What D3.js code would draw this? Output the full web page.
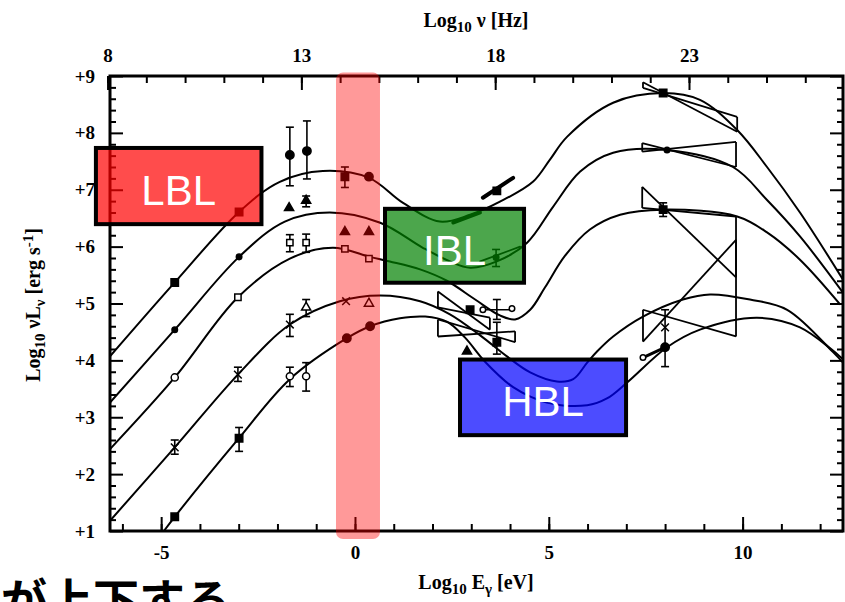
<!DOCTYPE html>
<html>
<head>
<meta charset="utf-8">
<title>Blazar sequence</title>
<script src="https://cdn.jsdelivr.net/npm/d3@7/dist/d3.min.js"></script>
<style>
  html, body { margin: 0; padding: 0; background: #fff; }
  svg { display: block; }
</style>
</head>
<body>
<svg id="chart" width="845" height="602"></svg>
<script>
// ---- Axis ticks -------------------------------------------------------
const energyMajorTicks = [-5, 0, 5, 10];
const energyTickLabels = ["-5", "0", "5", "10"];
const freqMajorTicks = [8, 13, 18, 23];
const freqTickLabels = ["8", "13", "18", "23"];
const lumMajorTicks = [1, 2, 3, 4, 5, 6, 7, 8, 9];
const lumTickLabels = ["+1", "+2", "+3", "+4", "+5", "+6", "+7", "+8", "+9"];

// ---- Average SED model curves: [log10 E (eV), log10 νLν] ---------------
const sed1 = [[-6.32,4.07],[-4.65,5.37],[-2.99,6.61],[-1.94,7.14],[-0.83,7.33],[0.36,7.21],[1.24,6.77],[2.19,6.44],[2.97,6.56],[3.74,6.79],[4.59,7.14],[5.03,7.53],[5.47,7.93],[6.66,8.53],[7.95,8.70],[8.90,8.58],[9.86,8.05],[10.63,7.40],[11.48,6.60],[12.59,5.42]];
const sed2 = [[-6.32,3.26],[-4.65,4.54],[-2.99,5.82],[-1.81,6.44],[-0.65,6.60],[0.65,6.42],[1.75,5.98],[2.45,5.74],[2.97,5.63],[3.66,5.74],[4.44,6.07],[5.11,6.70],[5.81,7.32],[6.66,7.65],[8.05,7.70],[9.75,7.40],[10.63,6.82],[11.48,6.18],[12.59,5.19]];
const sed3 = [[-6.32,2.44],[-4.65,3.70],[-3.02,5.11],[-1.68,5.79],[-0.57,5.98],[0.39,5.82],[0.90,5.74],[1.68,5.60],[2.37,5.40],[3.10,5.07],[3.74,4.79],[4.13,4.72],[4.52,4.89],[4.90,5.28],[5.42,5.84],[6.06,6.30],[6.84,6.56],[7.95,6.65],[9.86,6.53],[10.63,6.25],[11.48,5.77],[12.52,4.98]];
const sed4 = [[-6.32,1.18],[-4.65,2.47],[-3.02,3.75],[-1.68,4.63],[-0.39,5.04],[0.65,5.14],[1.68,5.04],[2.45,4.81],[3.23,4.44],[3.92,4.07],[4.52,3.79],[5.21,3.63],[5.63,3.67],[5.99,3.96],[6.25,4.16],[6.66,4.42],[7.43,4.77],[8.46,5.07],[9.16,5.16],[10.19,5.07],[11.15,4.89],[12.34,4.14],[12.59,3.96]];
const sed5 = [[-4.93,1.00],[-4.65,1.25],[-3.02,2.61],[-1.68,3.67],[-0.21,4.39],[0.39,4.60],[1.16,4.74],[1.81,4.77],[2.37,4.68],[2.84,4.40],[3.35,3.98],[4.08,3.53],[4.95,3.26],[5.99,3.21],[6.50,3.33],[7.02,3.61],[8.05,4.23],[8.90,4.54],[10.37,4.75],[11.48,4.58],[12.59,4.02]];

// ---- Measured points: [log10 E, log10 νLν, errLow, errHigh] -------------
const points1 = [[-4.65,5.37],[-2.99,6.61],[-1.68,7.61,7.07,8.10],[-1.24,7.68,7.19,8.21],[-0.26,7.23,7.04,7.40],[0.36,7.23],[3.66,6.98],[7.95,8.70]];
const points2 = [[-4.65,4.54],[-2.99,5.82],[-1.70,6.68],[-1.26,6.81,6.70,6.89],[-0.26,6.26],[0.36,6.26],[3.64,5.81,5.65,5.95],[8.05,7.70]];
const points3 = [[-4.65,3.70],[-3.02,5.11],[-1.68,6.07,5.91,6.21],[-1.26,6.07,5.90,6.22],[-0.26,5.96],[0.36,5.79],[2.97,4.89],[3.66,4.89,4.72,5.07],[3.30,4.89],[4.05,4.91],[7.95,6.65,6.53,6.77]];
const points4 = [[-4.65,2.47,2.35,2.60],[-3.02,3.75,3.63,3.88],[-1.68,4.63,4.42,4.81],[-1.26,4.93,4.77,5.07],[-0.23,5.04],[0.36,5.00],[8.00,4.58,3.89,4.89]];
const points5 = [[-4.65,1.25],[-2.99,2.63,2.40,2.82],[-1.68,3.72,3.54,3.88],[-1.26,3.72,3.46,3.96],[-0.21,4.39],[0.39,4.60],[2.89,4.16],[3.66,4.32,4.11,4.67],[7.43,4.05],[8.00,4.23]];

// Horizontal error bars: [log10 E, log10 νLν, E low, E high]
const energyErrorBars = [[3.66, 4.89, 3.23, 4.13]];

// Spectral bow-ties: [E1, E2, lineA at E1, lineA at E2, lineB at E1, lineB at E2]
const gammaBowties = [
  [7.43, 9.86, 8.89, 8.02, 8.79, 8.28],
  [7.41, 9.83, 7.82, 7.40, 7.67, 7.84],
  [7.41, 9.83, 7.05, 5.46, 6.68, 6.53],
  [7.43, 9.83, 4.89, 4.42, 4.33, 6.12]
];
const xrayBowties = [
  [2.14, 3.48, 5.21, 4.54, 4.93, 4.75],
  [2.14, 4.13, 4.72, 4.32, 4.42, 4.51]
];
// Measured spectral slopes: [E1, L1, E2, L2]
const spectralSlopes = [
  [3.30, 6.86, 4.08, 7.21],
  [2.53, 6.42, 3.23, 6.60],
  [3.23, 5.74, 4.26, 6.00],
  [7.43, 4.05, 8.00, 4.23]
];

// ---- Class annotations (extent in log10 E and log10 νLν) ---------------
const classNames = ["LBL", "IBL", "HBL"];
const classExtents = [
  [-6.735, -2.361, 7.77, 6.36],
  [0.723, 4.413, 6.70, 5.33],
  [2.658, 7.045, 4.05, 2.65]
];
const bandExtent = [-0.49, 0.645, 9.06, 0.86];

// =======================================================================
const svg = d3.select("#chart");
const W = 845, H = 602;
svg.append("rect").attr("width", W).attr("height", H).attr("fill", "#fff");

const x = d3.scaleLinear().domain([-6.32, 12.59]).range([110, 843]);
const y = d3.scaleLinear().domain([1, 9]).range([531, 76]);
const LOG_HZ_PER_EV = 14.383;
const xNu = d3.scaleLinear().domain(x.domain().map(d => d + LOG_HZ_PER_EV)).range(x.range());

const [x0, x1] = x.range();
const [y0, y1] = [y(9), y(1)];
const serif = "'Liberation Serif', 'DejaVu Serif', serif";

svg.append("defs").append("clipPath").attr("id", "plotClip")
  .append("rect").attr("x", x0).attr("y", y0).attr("width", x1 - x0).attr("height", y1 - y0);

// ---- Axes --------------------------------------------------------------
function styleAxis(g, labelSize) {
  g.select(".domain").remove();
  g.selectAll(".tick line").attr("stroke", "#000").attr("stroke-width", 2);
  g.selectAll(".tick text")
    .attr("fill", "#000")
    .attr("font-family", serif)
    .attr("font-weight", "bold")
    .attr("font-size", labelSize);
}

const minorLum = d3.range(1, 9.0001, 0.2).filter(v => Math.abs(v - Math.round(v)) > 1e-6);
const minorEnergy = d3.range(-6, 13, 1);
const minorFreq = d3.range(8, 27, 1);

// left
svg.append("g").attr("transform", `translate(${x0},0)`)
  .call(d3.axisLeft(y).tickValues(minorLum).tickSize(-6).tickFormat(""))
  .call(g => styleAxis(g, 16));
svg.append("g").attr("transform", `translate(${x0},0)`)
  .call(d3.axisLeft(y).tickValues(lumMajorTicks).tickSizeInner(-13).tickSizeOuter(0).tickPadding(15)
    .tickFormat((d, i) => lumTickLabels[i]))
  .call(g => styleAxis(g, 19));
// right
svg.append("g").attr("transform", `translate(${x1},0)`)
  .call(d3.axisRight(y).tickValues(minorLum).tickSize(-6).tickFormat(""))
  .call(g => styleAxis(g, 16));
svg.append("g").attr("transform", `translate(${x1},0)`)
  .call(d3.axisRight(y).tickValues(lumMajorTicks).tickSize(-13).tickFormat(""))
  .call(g => styleAxis(g, 16));
// bottom
svg.append("g").attr("transform", `translate(0,${y1})`)
  .call(d3.axisBottom(x).tickValues(minorEnergy).tickSize(-7).tickFormat(""))
  .call(g => styleAxis(g, 16));
svg.append("g").attr("transform", `translate(0,${y1})`)
  .call(d3.axisBottom(x).tickValues(energyMajorTicks).tickSizeInner(-14).tickSizeOuter(0).tickPadding(15)
    .tickFormat((d, i) => energyTickLabels[i]))
  .call(g => styleAxis(g, 19));
// top
svg.append("g").attr("transform", `translate(0,${y0})`)
  .call(d3.axisTop(xNu).tickValues(minorFreq).tickSize(-7).tickFormat(""))
  .call(g => styleAxis(g, 16));
svg.append("g").attr("transform", `translate(0,${y0})`)
  .call(d3.axisTop(xNu).tickValues(freqMajorTicks).tickSizeInner(-14).tickSizeOuter(0).tickPadding(14)
    .tickFormat((d, i) => freqTickLabels[i]))
  .call(g => styleAxis(g, 19));

// frame
svg.append("rect").attr("x", x0).attr("y", y0).attr("width", x1 - x0).attr("height", y1 - y0)
  .attr("fill", "none").attr("stroke", "#000").attr("stroke-width", 3);

// ---- Axis titles --------------------------------------------------------
function richText(sel, parts) {
  parts.forEach(p => {
    const t = sel.append("tspan").text(p.t);
    if (p.sub) t.attr("baseline-shift", "-30%").attr("font-size", "75%");
    if (p.sup) t.attr("baseline-shift", "45%").attr("font-size", "75%");
  });
}
const titleStyle = s => s.attr("font-family", serif).attr("font-weight", "bold")
  .attr("font-size", 20).attr("fill", "#000").attr("text-anchor", "middle");

svg.append("text").attr("x", 476).attr("y", 27).call(titleStyle)
  .call(s => richText(s, [{t: "Log"}, {t: "10", sub: true}, {t: " ν [Hz]"}]));
svg.append("text").attr("x", 476).attr("y", 589).call(titleStyle)
  .call(s => richText(s, [{t: "Log"}, {t: "10", sub: true}, {t: " E"}, {t: "γ", sub: true}, {t: " [eV]"}]));
svg.append("text").attr("transform", "translate(40,305) rotate(-90)").call(titleStyle)
  .call(s => richText(s, [{t: "Log"}, {t: "10", sub: true}, {t: " νL"}, {t: "ν", sub: true},
    {t: " [erg s"}, {t: "-1", sup: true}, {t: "]"}]));

// ---- Data layer ---------------------------------------------------------
const plot = svg.append("g").attr("clip-path", "url(#plotClip)");
const line = d3.line().x(d => x(d[0])).y(d => y(d[1])).curve(d3.curveCatmullRom.alpha(0.5));

[sed1, sed2, sed3, sed4, sed5].forEach(s => {
  plot.append("path").attr("d", line(s)).attr("fill", "none")
    .attr("stroke", "#000").attr("stroke-width", 2);
});

// bow-ties
function drawBowtie(b, w) {
  const [e1, e2, a1, a2, b1, b2] = b;
  const g = plot.append("g").attr("fill", "none").attr("stroke", "#000").attr("stroke-width", w);
  g.append("path").attr("d", d3.line()([[x(e1), y(a1)], [x(e2), y(a2)]]));
  g.append("path").attr("d", d3.line()([[x(e1), y(b1)], [x(e2), y(b2)]]));
  g.append("path").attr("d", d3.line()([[x(e1), y(a1)], [x(e1), y(b1)]]));
  g.append("path").attr("d", d3.line()([[x(e2), y(a2)], [x(e2), y(b2)]]));
}
gammaBowties.forEach(b => drawBowtie(b, 1.8));
xrayBowties.forEach(b => drawBowtie(b, 1.8));

const slopeWidths = [4, 3.5, 1.8, 3];
spectralSlopes.forEach((s, i) => {
  plot.append("path").attr("d", d3.line()([[x(s[0]), y(s[1])], [x(s[2]), y(s[3])]]))
    .attr("stroke", "#000").attr("stroke-width", slopeWidths[i]).attr("stroke-linecap", "round");
});

// error bars
function errorBar(e, lo, hi) {
  const g = plot.append("g").attr("stroke", "#000").attr("stroke-width", 1.6);
  g.append("line").attr("x1", x(e)).attr("x2", x(e)).attr("y1", y(lo)).attr("y2", y(hi));
  [lo, hi].forEach(v => g.append("line").attr("x1", x(e) - 4).attr("x2", x(e) + 4)
    .attr("y1", y(v)).attr("y2", y(v)));
}
energyErrorBars.forEach(b => {
  const g = plot.append("g").attr("stroke", "#000").attr("stroke-width", 1.6);
  g.append("line").attr("x1", x(b[2])).attr("x2", x(b[3])).attr("y1", y(b[1])).attr("y2", y(b[1]));
});

// marker shapes per series
const shapes1 = ["square","square","circle","circle","square","circle","square","square"];
const shapes2 = ["dot","dot","triangle","triangle","triangle","triangle","dot","dot"];
const shapes3 = ["openCircle","openSquare","openSquare","openSquare","openSquare","openSquare","square","cross","smallOpenCircle","smallOpenCircle","square"];
const shapes4 = ["times","times","times","openTriangle","times","openTriangle","times"];
const shapes5 = ["square","square","openCircle","openCircle","circle","circle","triangle","square","smallOpenCircle","circle"];

const symbolDefs = {
  square:          {type: d3.symbolSquare,   size: 55, fill: true},
  circle:          {type: d3.symbolCircle,   size: 55, fill: true},
  dot:             {type: d3.symbolCircle,   size: 24, fill: true},
  triangle:        {type: d3.symbolTriangle, size: 36, fill: true},
  openSquare:      {type: d3.symbolSquare,   size: 40, fill: false},
  openCircle:      {type: d3.symbolCircle,   size: 40, fill: false},
  smallOpenCircle: {type: d3.symbolCircle,   size: 24, fill: false},
  openTriangle:    {type: d3.symbolTriangle, size: 36, fill: false},
  times:           {type: d3.symbolTimes || d3.symbolCross, size: 40, fill: false, stroke: true},
  cross:           {type: d3.symbolCross,    size: 0,  fill: false}
};

function drawPoints(pts, shapes) {
  pts.forEach((p, i) => {
    if (p.length > 2) errorBar(p[0], p[2], p[3]);
    const def = symbolDefs[shapes[i]];
    if (!def.size) return;
    plot.append("path")
      .attr("transform", `translate(${x(p[0])},${y(p[1])})`)
      .attr("d", d3.symbol().type(def.type).size(def.size)())
      .attr("fill", def.fill ? "#000" : (def.stroke ? "none" : "#fff"))
      .attr("stroke", "#000").attr("stroke-width", 1.5);
  });
}
drawPoints(points1, shapes1);
drawPoints(points2, shapes2);
drawPoints(points3, shapes3);
drawPoints(points4, shapes4);
drawPoints(points5, shapes5);

// ---- Annotations --------------------------------------------------------
svg.append("rect")
  .attr("x", x(bandExtent[0])).attr("y", y(bandExtent[2]))
  .attr("width", x(bandExtent[1]) - x(bandExtent[0]))
  .attr("height", y(bandExtent[3]) - y(bandExtent[2]))
  .attr("rx", 7).attr("fill", "#ff0000").attr("fill-opacity", 0.4);

const classColors = ["#ff0000", "#008000", "#0000ff"];
classNames.forEach((name, i) => {
  const [ea, eb, la, lb] = classExtents[i];
  const bx = x(ea) + 2, by = y(la) + 2, bw = x(eb) - x(ea) - 4, bh = y(lb) - y(la) - 4;
  svg.append("rect").attr("x", bx).attr("y", by).attr("width", bw).attr("height", bh)
    .attr("fill", classColors[i]).attr("fill-opacity", 0.7)
    .attr("stroke", "#000").attr("stroke-width", 4);
  svg.append("text").attr("x", bx + bw / 2).attr("y", by + bh / 2 + 19)
    .attr("text-anchor", "middle").attr("fill", "#fff")
    .attr("font-family", "'Liberation Sans', Arial, sans-serif").attr("font-size", 42)
    .text(name);
});

// caption line running off the bottom edge
svg.append("text").attr("x", 1).attr("y", 617)
  .attr("font-family", "'Noto Sans CJK JP', sans-serif").attr("font-weight", "bold")
  .attr("font-size", 46).attr("fill", "#000")
  .text("が上下する");
</script>
</body>
</html>
